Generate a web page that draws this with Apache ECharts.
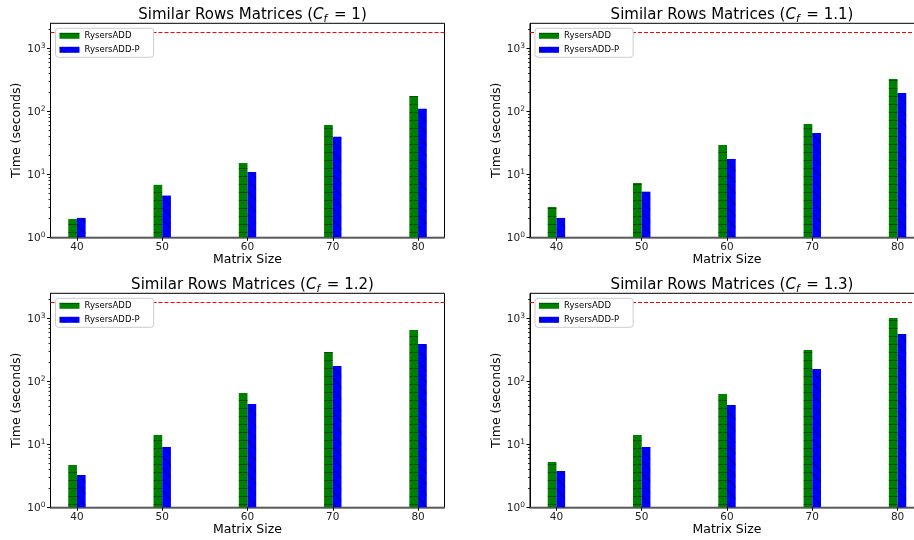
<!DOCTYPE html>
<html>
<head>
<meta charset="utf-8">
<script src="https://cdn.jsdelivr.net/npm/echarts@6/dist/echarts.min.js"></script>
<style>
html,body{margin:0;padding:0;background:#fff;overflow:hidden;width:914px;height:540px;}
#main{width:930px;height:540px;}
</style>
</head>
<body>
<div id="main"></div>
<script>
// ---- data ----
var matrixSizes = [40, 50, 60, 70, 80];
var cfLabels = ['1', '1.1', '1.2', '1.3'];
var rysersAdd_cf1  = [1.95, 6.8, 15.1, 60.7, 175];
var rysersAddP_cf1 = [2.03, 4.6, 10.9, 39.6, 110];
var rysersAdd_cf11  = [3.03, 7.28, 29.2, 63, 326];
var rysersAddP_cf11 = [2.03, 5.3, 17.5, 45.3, 195];
var rysersAdd_cf12  = [4.7, 14.1, 65.3, 292, 653];
var rysersAddP_cf12 = [3.26, 9.07, 43.6, 175, 391];
var rysersAdd_cf13  = [5.24, 14.1, 63, 314, 1012];
var rysersAddP_cf13 = [3.77, 9.07, 42.1, 157, 564];
var timeoutSeconds = 1800;
var yMajorTicks = [1, 10, 100, 1000];
var yMinorTicks = [2,3,4,5,6,7,8,9,20,30,40,50,60,70,80,90,200,300,400,500,600,700,800,900,2000];
var seriesNames = ['RysersADD', 'RysersADD-P'];

var addData = [rysersAdd_cf1, rysersAdd_cf11, rysersAdd_cf12, rysersAdd_cf13];
var pData = [rysersAddP_cf1, rysersAddP_cf11, rysersAddP_cf12, rysersAddP_cf13];

// ---- layout ----
var FONT = 'DejaVu Sans';
var W = 930;
var panels = [
  {left: 50.5, width: 394, top: 23.3, height: 214},
  {left: 530, width: 394, top: 23.3, height: 214},
  {left: 50.5, width: 394, top: 293.3, height: 214},
  {left: 530, width: 394, top: 293.3, height: 214}
];

var grids = [], xAxes = [], yAxes = [], series = [], titles = [], legends = [];
panels.forEach(function (p, i) {
  grids.push({left: p.left, right: W - p.left - p.width, top: p.top, bottom: 540 - p.top - p.height,
    show: true, borderColor: '#000', borderWidth: 1, backgroundColor: 'transparent'});
  var cx = p.left + p.width / 2;
  titles.push({
    text: '{t|Similar Rows Matrices (}{i|C}{s|f}{t| = ' + cfLabels[i] + ')}',
    left: cx, top: p.top - 22, textAlign: 'center',
    textStyle: {
      fontWeight: 'normal',
      rich: {
        t: {fontFamily: FONT, fontSize: 15, fontWeight: 'normal', color: '#000', verticalAlign: 'middle', lineHeight: 18},
        i: {fontFamily: FONT, fontSize: 15, fontWeight: 'normal', fontStyle: 'italic', color: '#000', verticalAlign: 'middle', lineHeight: 18},
        s: {fontFamily: FONT, fontSize: 10.5, fontWeight: 'normal', fontStyle: 'italic', color: '#000', verticalAlign: 'bottom', lineHeight: 10, padding: [0, 2, 0, 0]}
      }
    }
  });
  xAxes.push({
    gridIndex: i, type: 'value', min: 36.9, max: 83.1,
    name: 'Matrix Size', nameLocation: 'middle', nameGap: 15,
    nameTextStyle: {fontFamily: FONT, fontSize: 12.5, color: '#000'},
    axisLine: {show: true, onZero: false, lineStyle: {color: '#666', width: 1.5}},
    axisTick: {show: true, length: 3.5, customValues: matrixSizes, lineStyle: {color: '#000'}},
    axisLabel: {customValues: matrixSizes, fontFamily: FONT, fontSize: 10.5, color: '#222', margin: 4},
    splitLine: {show: false}
  });
  yAxes.push({
    gridIndex: i, type: 'log', logBase: 10, min: 1, max: 2500,
    name: 'Time (seconds)', nameLocation: 'middle', nameGap: 27,
    nameTextStyle: {fontFamily: FONT, fontSize: 12.5, color: '#000'},
    axisLine: {show: true, lineStyle: {color: '#000', width: 1}},
    axisTick: {show: true, length: 3.5, customValues: yMajorTicks, lineStyle: {color: '#000'}},
    axisLabel: {
      customValues: yMajorTicks, margin: 5,
      formatter: function (v) { return '{b|10}{e|' + Math.round(Math.log10(v)) + '}'; },
      rich: {
        b: {fontFamily: FONT, fontSize: 10.5, color: '#222', verticalAlign: 'bottom', lineHeight: 12},
        e: {fontFamily: FONT, fontSize: 7.5, color: '#222', verticalAlign: 'top', lineHeight: 12}
      }
    },
    splitLine: {show: false}
  });
  yAxes.push({
    gridIndex: i, type: 'log', logBase: 10, min: 1, max: 2500, position: 'left',
    axisLine: {show: false},
    axisTick: {show: true, length: 2, customValues: yMinorTicks, lineStyle: {color: '#000', width: 0.8}},
    axisLabel: {show: false},
    splitLine: {show: false}
  });
  var yIdx = i * 2;
  series.push({
    name: seriesNames[0], type: 'bar', xAxisIndex: i, yAxisIndex: yIdx,
    barWidth: 8.7, barGap: '0%',
    data: matrixSizes.map(function (s, k) { return [s, addData[i][k]]; }),
    itemStyle: {color: '#008000',
      decal: {symbol: 'rect', symbolSize: 1, color: 'rgba(0,0,0,0.4)', dashArrayX: [1, 0], dashArrayY: [1, 6.6], rotation: 0}},
    markLine: {
      silent: true, symbol: 'none', label: {show: false}, z: 1,
      lineStyle: {color: '#ff0000', type: [4, 2], width: 1},
      data: [{yAxis: timeoutSeconds}]
    }
  });
  series.push({
    name: seriesNames[1], type: 'bar', xAxisIndex: i, yAxisIndex: yIdx,
    barWidth: 8.7, barGap: '0%',
    data: matrixSizes.map(function (s, k) { return [s, pData[i][k]]; }),
    itemStyle: {color: '#0000ff',
      decal: {symbol: 'rect', symbolSize: 1, color: 'rgba(0,0,0,0.4)', dashArrayX: [1, 0], dashArrayY: [1, 6.6], rotation: Math.PI / 4}}
  });
  legends.push({
    left: p.left + 5, top: p.top + 5, orient: 'vertical', z: 20,
    data: [{name: seriesNames[0], icon: 'rect'}, {name: seriesNames[1], icon: 'rect'}],
    itemWidth: 20, itemHeight: 6, itemGap: 5, itemTextGap: 7,
    padding: [3, 14, 3, 4],
    backgroundColor: '#fff', borderColor: '#ccc', borderWidth: 1, borderRadius: 3,
    textStyle: {fontFamily: FONT, fontSize: 8.5, color: '#000'},
    selectedMode: false
  });
});

var chart = echarts.init(document.getElementById('main'), null, {renderer: 'canvas'});
chart.setOption({
  animation: false,
  backgroundColor: '#fff',
  title: titles,
  legend: legends,
  grid: grids,
  xAxis: xAxes,
  yAxis: yAxes,
  series: series
});
</script>
</body>
</html>
